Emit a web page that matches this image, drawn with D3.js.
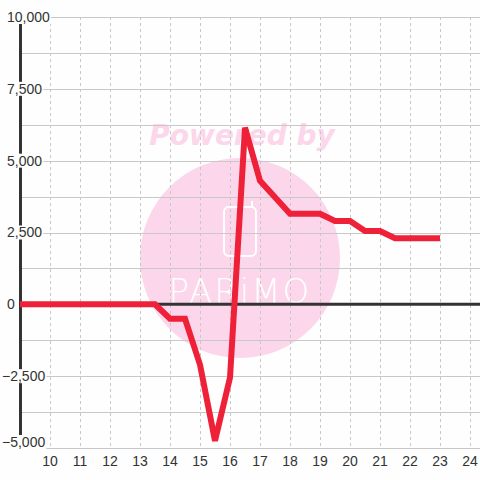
<!DOCTYPE html>
<html>
<head>
<meta charset="utf-8">
<script src="https://cdn.jsdelivr.net/npm/d3@7"></script>
<style>
  html, body { margin: 0; padding: 0; background: #fdfefd; }
  svg { display: block; font-family: 'Liberation Sans', Arial, sans-serif; }
</style>
</head>
<body>
<div id="chart"></div>
<script>
// data
let hours = [9, 9.5, 10, 10.5, 11, 11.5, 12, 12.5, 13, 13.5, 14, 14.5, 15, 15.5, 16,
  16.5, 17, 17.5, 18, 18.5, 19, 19.5, 20, 20.5, 21, 21.5, 22, 22.5, 23]
let values = [0, 0, 0, 0, 0, 0, 0, 0, 0, 0, -500, -500, -2100, -4750, -2550,
  6150, 4300, 3725, 3150, 3150, 3150, 2900, 2900, 2550, 2550, 2300, 2300, 2300, 2300]

let xTicks = [10, 11, 12, 13, 14, 15, 16, 17, 18, 19, 20, 21, 22, 23, 24]
let yTicks = [-5000, -2500, 0, 2500, 5000, 7500, 10000]
let yGrid = [-5000, -3750, -2500, -1250, 0, 1250, 2500, 3750, 5000, 6250, 7500, 8750, 10000]

let width = 480
let height = 480
let bg = '#fdfefd'

let svg = d3.select('#chart')
  .append('svg')
  .attr('width', width)
  .attr('height', height)

// scales
let xPositionScale = d3.scaleLinear().domain([9, 24 + 1 / 3]).range([20, 480])
let yPositionScale = d3.scaleLinear().domain([-5000, 10000]).range([448, 17])

// watermark
let wm = svg.append('g').attr('class', 'watermark')
wm.append('circle')
  .attr('cx', 240)
  .attr('cy', 258)
  .attr('r', 100)
  .attr('fill', '#fcd6ea')
wm.append('text')
  .attr('x', 242)
  .attr('y', 145)
  .attr('text-anchor', 'middle')
  .attr('font-family', 'DejaVu Sans')
  .attr('font-weight', 'bold')
  .attr('font-style', 'italic')
  .attr('font-size', 28)
  .attr('fill', '#fcd6ea')
  .text('Powered by')
wm.append('rect')
  .attr('x', 224)
  .attr('y', 207)
  .attr('width', 32)
  .attr('height', 49)
  .attr('rx', 5)
  .attr('fill', 'none')
  .attr('stroke', '#fff')
  .attr('stroke-width', 2)
wm.append('path')
  .attr('d', 'M252,207 L252,201')
  .attr('stroke', '#fff')
  .attr('stroke-width', 2)
wm.append('text')
  .attr('x', 240)
  .attr('y', 303)
  .attr('text-anchor', 'middle')
  .attr('font-family', 'DejaVu Sans')
  .attr('font-weight', 200)
  .attr('font-size', 34)
  .attr('letter-spacing', 2)
  .attr('fill', '#fff')
  .text('PARiMO')

// horizontal grid
svg.append('g')
  .selectAll('line')
  .data(yGrid)
  .enter()
  .append('line')
  .attr('x1', 20)
  .attr('x2', 480)
  .attr('y1', d => Math.round(yPositionScale(d)) + 0.5)
  .attr('y2', d => Math.round(yPositionScale(d)) + 0.5)
  .attr('stroke', '#c8c8c8')
  .attr('stroke-width', 1)

// vertical dotted grid
svg.append('g')
  .selectAll('line')
  .data(xTicks)
  .enter()
  .append('line')
  .attr('x1', d => Math.round(xPositionScale(d)) + 0.5)
  .attr('x2', d => Math.round(xPositionScale(d)) + 0.5)
  .attr('y1', yPositionScale(10000))
  .attr('y2', yPositionScale(-5000))
  .attr('stroke', '#c8c8c8')
  .attr('stroke-width', 1)
  .attr('stroke-dasharray', '3 3')

// y axis bar and zero line
svg.append('line')
  .attr('x1', 20.5)
  .attr('x2', 20.5)
  .attr('y1', yPositionScale(10000))
  .attr('y2', yPositionScale(-5000))
  .attr('stroke', '#333')
  .attr('stroke-width', 3)

svg.append('line')
  .attr('x1', 20)
  .attr('x2', 480)
  .attr('y1', yPositionScale(0))
  .attr('y2', yPositionScale(0))
  .attr('stroke', '#333')
  .attr('stroke-width', 3)

// y labels with background boxes
let yLabels = svg.append('g')
  .selectAll('g')
  .data(yTicks)
  .enter()
  .append('g')
  .attr('transform', d => `translate(7,${Math.min(yPositionScale(d), 442)})`)

yLabels.append('text')
  .attr('x', d => d < 0 ? -5 : 0)
  .attr('dy', '0.35em')
  .attr('font-size', 14)
  .attr('fill', '#333')
  .text(d => d3.format(',')(d))

yLabels.each(function() {
  let g = d3.select(this)
  let box = g.select('text').node().getBBox()
  g.insert('rect', 'text')
    .attr('x', box.x - 1)
    .attr('y', -7)
    .attr('width', box.width + 2)
    .attr('height', 14)
    .attr('fill', bg)
})

// x labels
svg.append('g')
  .selectAll('text')
  .data(xTicks)
  .enter()
  .append('text')
  .attr('x', d => xPositionScale(d))
  .attr('y', 461)
  .attr('dy', '0.35em')
  .attr('text-anchor', 'middle')
  .attr('font-size', 14)
  .attr('fill', '#333')
  .text(d => d)

// the line
let line = d3.line()
  .x(d => xPositionScale(d[0]))
  .y(d => yPositionScale(d[1]))

svg.append('path')
  .datum(d3.zip(hours, values))
  .attr('d', line)
  .attr('fill', 'none')
  .attr('stroke', '#ee2139')
  .attr('stroke-width', 6)
</script>
</body>
</html>
